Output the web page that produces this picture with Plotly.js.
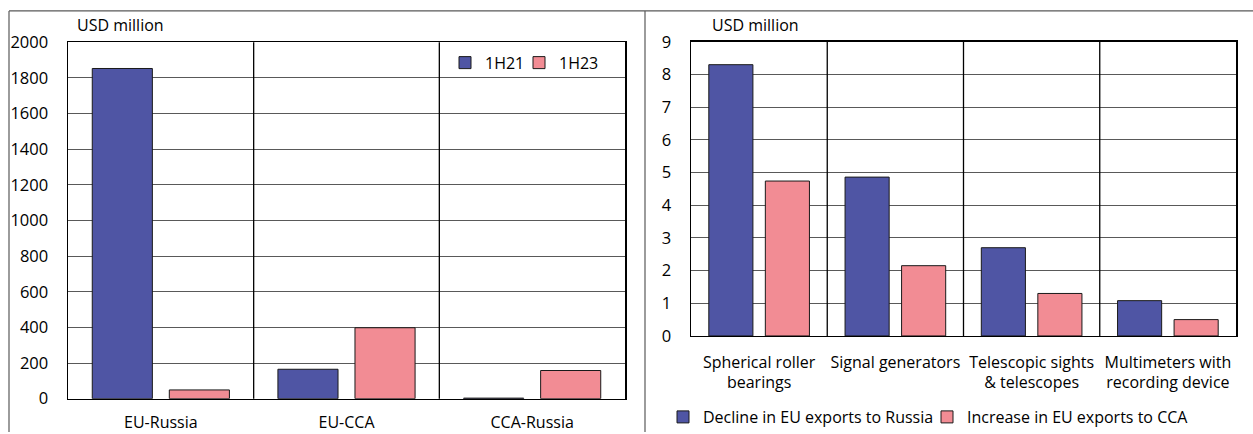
<!DOCTYPE html>
<html>
<head>
<meta charset="utf-8">
<script src="https://cdn.plot.ly/plotly-3.0.1.min.js"></script>
<style>html,body{margin:0;padding:0;background:#fff;}#chart{width:1253px;height:434px;}</style>
</head>
<body>
<div id="chart"></div>
<script>
// Left panel data
const leftCategories = ["EU-Russia", "EU-CCA", "CCA-Russia"];
const left1H21 = [1853, 165, 3];
const left1H23 = [49, 398, 158];
const leftSeriesNames = ["1H21", "1H23"];

// Right panel data
const rightCategories = ["Spherical roller<br>bearings", "Signal generators", "Telescopic sights<br>& telescopes", "Multimeters with<br>recording device"];
const rightDecline = [8.3, 4.86, 2.7, 1.08];
const rightIncrease = [4.74, 2.15, 1.3, 0.5];
const rightSeriesNames = ["Decline in EU exports to Russia", "Increase in EU exports to CCA"];

const yUnit = "USD million";
const leftYTicks = [0, 200, 400, 600, 800, 1000, 1200, 1400, 1600, 1800, 2000];
const rightYTicks = [0, 1, 2, 3, 4, 5, 6, 7, 8, 9];

const BLUE = "#4F55A4";
const PINK = "#F28C94";
const FONT = "Open Sans, sans-serif";
const FS = 16;
const W = 1253, H = 434;

const barLine = {color: "#1a1a1a", width: 1};

const traces = [
  {type: "bar", x: leftCategories, y: left1H21, name: leftSeriesNames[0], marker: {color: BLUE, line: barLine}, xaxis: "x", yaxis: "y", legend: "legend"},
  {type: "bar", x: leftCategories, y: left1H23, name: leftSeriesNames[1], marker: {color: PINK, line: barLine}, xaxis: "x", yaxis: "y", legend: "legend2"},
  {type: "bar", x: rightCategories, y: rightDecline, name: rightSeriesNames[0], marker: {color: BLUE, line: barLine}, xaxis: "x2", yaxis: "y2", legend: "legend3"},
  {type: "bar", x: rightCategories, y: rightIncrease, name: rightSeriesNames[1], marker: {color: PINK, line: barLine}, xaxis: "x2", yaxis: "y2", legend: "legend4"}
];

function px(x) { return x / W; }
function py(y) { return 1 - y / H; }

const axisCommon = {
  showline: true, mirror: true, linecolor: "#000", linewidth: 1.5,
  ticks: "", fixedrange: true, zeroline: false,
  tickfont: {family: FONT, size: FS, color: "#000"}
};

const shapes = [];
// vertical category dividers
for (let i = 0; i < leftCategories.length - 1; i++) {
  shapes.push({type: "line", xref: "x", yref: "y domain", x0: i + 0.5, x1: i + 0.5, y0: 0, y1: 1, line: {color: "#000", width: 1.3}});
}
for (let i = 0; i < rightCategories.length - 1; i++) {
  shapes.push({type: "line", xref: "x2", yref: "y2 domain", x0: i + 0.5, x1: i + 0.5, y0: 0, y1: 1, line: {color: "#000", width: 1.3}});
}
// outer frame lines
shapes.push({type: "line", xref: "paper", yref: "paper", x0: px(9), x1: 1, y0: py(11), y1: py(11), line: {color: "#595959", width: 1.2}});
shapes.push({type: "line", xref: "paper", yref: "paper", x0: px(9), x1: px(9), y0: py(11), y1: 0, line: {color: "#595959", width: 1.2}});
shapes.push({type: "line", xref: "paper", yref: "paper", x0: px(645), x1: px(645), y0: py(11), y1: 0, line: {color: "#595959", width: 1.2}});

function legendAt(xText, yCenter, size) {
  return {orientation: "h", x: px(xText - 41), xanchor: "left", y: py(yCenter), yanchor: "middle",
          bgcolor: "rgba(0,0,0,0)", font: {family: FONT, size: size}, itemwidth: 30};
}

const layout = {
  width: W, height: H,
  margin: {l: 0, r: 0, t: 0, b: 0},
  paper_bgcolor: "#fff", plot_bgcolor: "#fff",
  font: {family: FONT, size: FS, color: "#000"},
  barmode: "group", bargap: 0.17, bargroupgap: 0.22,
  xaxis: Object.assign({}, axisCommon, {domain: [px(68), px(625)], anchor: "y", showgrid: false, ticklabelstandoff: 9}),
  yaxis: Object.assign({}, axisCommon, {domain: [py(400.5), py(42.5)], anchor: "x", range: [0, 2000], tickvals: leftYTicks, showgrid: true, gridcolor: "#595959", gridwidth: 1, ticklabelstandoff: 15, tickfont: {family: FONT, size: 16.5, color: "#000"}}),
  xaxis2: Object.assign({}, axisCommon, {domain: [px(691), px(1236)], anchor: "y2", showgrid: false, ticklabelstandoff: 11}),
  yaxis2: Object.assign({}, axisCommon, {domain: [py(337.5), py(42)], anchor: "x2", range: [0, 9], tickvals: rightYTicks, showgrid: true, gridcolor: "#595959", gridwidth: 1, ticklabelstandoff: 15, tickfont: {family: FONT, size: 16.5, color: "#000"}}),
  legend: legendAt(486, 63, FS),
  legend2: legendAt(560, 63, FS),
  legend3: legendAt(704, 419, FS),
  legend4: legendAt(968, 419, FS),
  showlegend: true,
  annotations: [
    {text: yUnit, xref: "paper", yref: "paper", x: px(75), y: py(25), xanchor: "left", yanchor: "middle", showarrow: false, font: {family: FONT, size: FS}},
    {text: yUnit, xref: "paper", yref: "paper", x: px(710), y: py(25), xanchor: "left", yanchor: "middle", showarrow: false, font: {family: FONT, size: FS}}
  ],
  shapes: shapes
};

Plotly.newPlot("chart", traces, layout, {displayModeBar: false, staticPlot: true});
</script>
</body>
</html>
